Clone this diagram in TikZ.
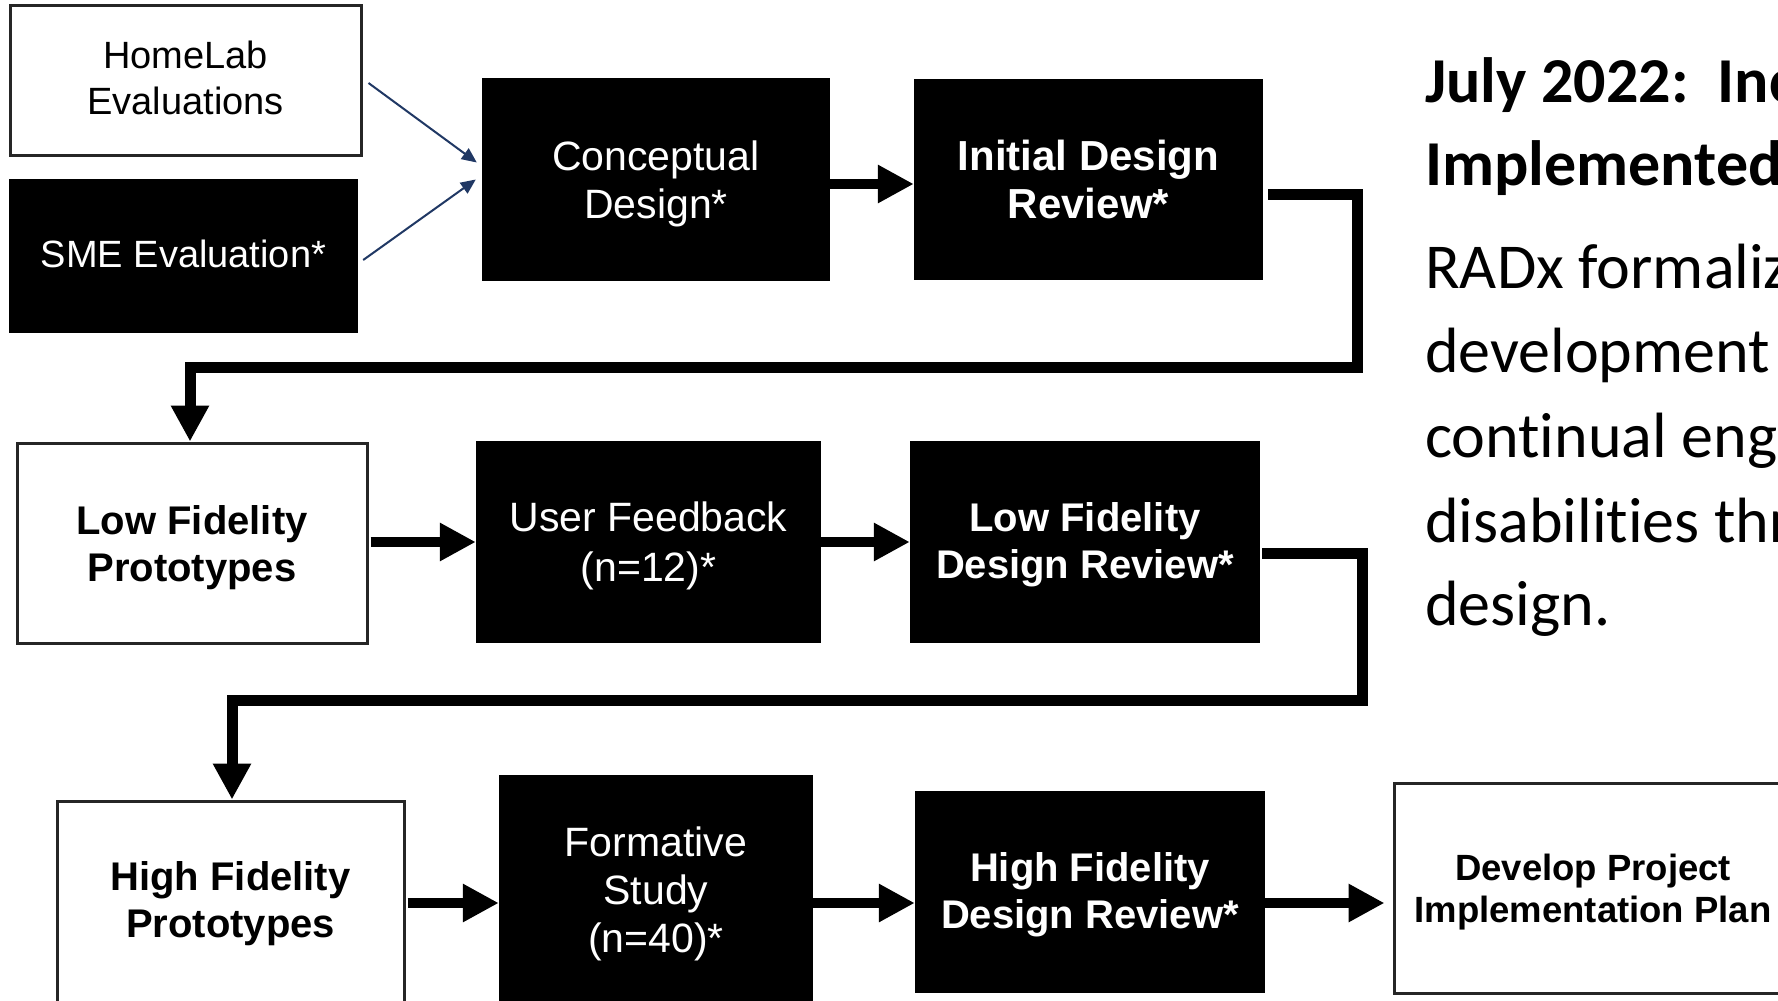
\documentclass[tikz,border=0pt]{standalone}
\usepackage{fontspec}
\setmainfont{Liberation Sans}
\newfontfamily\calibrifont[Ligatures=NoCommon]{Carlito}
\usetikzlibrary{arrows.meta}
\definecolor{navy}{HTML}{203864}
\newcommand{\upad}[1]{\rule{0pt}{#1}}
\newcommand{\dpad}[1]{\rule[-#1]{0pt}{0pt}}
\tikzset{
  whitebox/.style={draw=black!85, line width=3pt, fill=white, inner sep=0pt, align=center, text=black},
  blackbox/.style={fill=black, inner sep=0pt, align=center, text=white},
  regtext/.style={font=\fontsize{41}{48}\selectfont},
  boldtext/.style={font=\fontsize{40}{47}\selectfont\bfseries},
  bigarrow/.style={line width=10pt, -{Triangle[length=36pt,width=36pt]}},
  elbow/.style={line width=11pt, line join=miter, -{Triangle[length=36pt,width=36pt]}},
  thinarrow/.style={draw=navy, line width=2pt, -{Triangle[length=15pt,width=13pt]}},
  sidetext/.style={anchor=base west, inner sep=0pt}
}
\begin{document}
\begin{tikzpicture}[x=1pt,y=-1pt]
\useasboundingbox (0,0) rectangle (1778,1001);
\clip (0,0) rectangle (1778,1001);
\fill[white] (0,0) rectangle (1778,1001);

% row 1
\node[whitebox, minimum width=351pt, minimum height=150pt, font=\fontsize{38}{46}\selectfont] (hl) at (185.5,80) {HomeLab\\Evaluations\dpad{4pt}};
\node[blackbox, minimum width=349pt, minimum height=154pt, font=\fontsize{38}{46}\selectfont] (sme) at (183.5,256) {SME Evaluation*\dpad{5pt}};
\node[blackbox, regtext, minimum width=348pt, minimum height=203pt] (cd) at (656,179.5) {\upad{39pt}Conceptual\\Design*};
\node[blackbox, font=\fontsize{42}{48}\selectfont\bfseries, minimum width=349pt, minimum height=201pt] (idr) at (1088.5,179.5) {Initial Design\\Review*};

% row 2
\node[whitebox, boldtext, minimum width=350pt, minimum height=200pt] (lfp) at (192,543) {\upad{38pt}Low Fidelity\\Prototypes};
\node[blackbox, regtext, font=\fontsize{41}{50}\selectfont, minimum width=345pt, minimum height=202pt] (uf) at (648.5,542) {\upad{38pt}User Feedback\\(n=12)*};
\node[blackbox, boldtext, minimum width=350pt, minimum height=202pt] (lfdr) at (1085,542) {\upad{35pt}Low Fidelity\\Design Review*};

% row 3
\node[whitebox, boldtext, minimum width=347pt, minimum height=205pt] (hfp) at (230.5,903.5) {High Fidelity\\Prototypes};
\node[blackbox, regtext, minimum width=314pt, minimum height=230pt] (fs) at (656,890) {\upad{37pt}Formative\\Study\\(n=40)*};
\node[blackbox, boldtext, minimum width=350pt, minimum height=202pt] (hfdr) at (1090,892) {\upad{34pt}High Fidelity\\Design Review*};
\node[whitebox, minimum width=398pt, minimum height=210pt, font=\fontsize{36.5}{42}\selectfont\bfseries] (dev) at (1593,888) {\upad{34pt}Develop Project\\Implementation Plan};

% thin arrows
\draw[thinarrow] ([xshift=6pt,yshift=-3pt]hl.east) -- ([xshift=-5pt,yshift=17pt]cd.west);
\draw[thinarrow] ([xshift=5pt,yshift=-4pt]sme.east) -- ([xshift=-6pt]cd.west);

% row arrows
\coordinate (r1) at (0,184);
\coordinate (r2) at (0,542);
\coordinate (r3) at (0,903);
\draw[bigarrow] (cd.east |- r1) -- (idr.west |- r1);
\draw[bigarrow] ([xshift=2pt]lfp.east |- r2) -- (uf.west |- r2);
\draw[bigarrow] (uf.east |- r2) -- (lfdr.west |- r2);
\draw[bigarrow] ([xshift=2pt]hfp.east |- r3) -- (fs.west |- r3);
\draw[bigarrow] (fs.east |- r3) -- (hfdr.west |- r3);
\draw[bigarrow] (hfdr.east |- r3) -- ([xshift=-8pt]dev.west |- r3);

% elbow connectors
\coordinate (a1) at (1357,194);
\coordinate (a2) at (1357,367);
\coordinate (a3) at (190,367);
\draw[elbow] ([xshift=5pt]idr.east |- a1) -- (a1) -- (a2) -- (a3) -- (a3 |- lfp.north);
\coordinate (b1) at (1362,553);
\coordinate (b2) at (1362,700);
\coordinate (b3) at (232,700);
\draw[elbow] ([xshift=2pt]lfdr.east |- b1) -- (b1) -- (b2) -- (b3) -- (b3 |- hfp.north);

% side text
\node[sidetext, font=\calibrifont\bfseries\fontsize{64}{84}\selectfont] (t1) at (1425,102) {July 2022:\ \ Inc};
\node[sidetext, font=\calibrifont\bfseries\fontsize{64}{84}\selectfont] (t2) at (1425,185) {Implemented};
\node[sidetext, font=\calibrifont\fontsize{64}{84}\selectfont] (t3) at (1425,288) {RADx formaliz};
\node[sidetext, font=\calibrifont\fontsize{64}{84}\selectfont] (t4) at (1425,372) {development};
\node[sidetext, font=\calibrifont\fontsize{64}{84}\selectfont] (t5) at (1425,457) {continual eng};
\node[sidetext, font=\calibrifont\fontsize{64}{84}\selectfont] (t6) at (1425,542) {disabilities thr};
\node[sidetext, font=\calibrifont\fontsize{64}{84}\selectfont] (t7) at (1425,625) {design.};
\end{tikzpicture}
\end{document}
